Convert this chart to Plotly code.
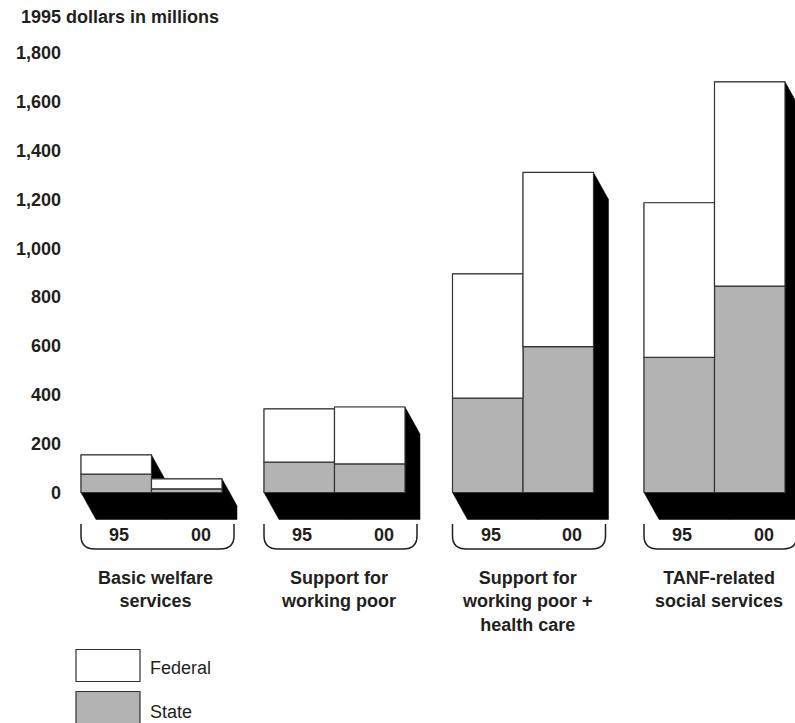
import plotly.graph_objects as go

# Spending in 1995 dollars (millions), by program group and year
groups = ["Basic welfare<br>services", "Support for<br>working poor",
          "Support for<br>working poor +<br>health care", "TANF-related<br>social services"]
years = ["95", "00"]
state_95 = [75, 124, 386, 553]
state_00 = [15, 117, 597, 845]
federal_95 = [79, 218, 509, 633]
federal_00 = [41, 233, 713, 836]
y_ticks = [0, 200, 400, 600, 800, 1000, 1200, 1400, 1600, 1800]

W, H = 795, 723
ML = 63
Y0_PX = 492.5          # pixel row of value 0
K = 0.2443             # pixels per million
BAR_W = 70.5
group_left = [81, 264, 452.5, 644]
DX, DY = 15, 27        # extrusion offset in pixels

TEXT = "#231f20"
GRAY = "#b3b3b3"
EDGE = "#333333"
FONT = "Liberation Sans, Arial, Helvetica, sans-serif"


def yv(px):
    """pixel row -> data value"""
    return (Y0_PX - px) / K


def xp(px):
    """pixel column -> paper fraction"""
    return (px - ML) / (W - ML)


def yp(px):
    """pixel row -> paper fraction"""
    return 1 - px / H


x95 = [g + BAR_W / 2 for g in group_left]
x00 = [g + BAR_W * 1.5 for g in group_left]
xs = x95 + x00
state = state_95 + state_00
federal = federal_95 + federal_00
totals = [s + f for s, f in zip(state, federal)]

fig = go.Figure()
fig.add_bar(x=xs, y=state, width=BAR_W, name="State",
            marker=dict(color=GRAY, line=dict(color=EDGE, width=1.2)))
fig.add_bar(x=xs, y=federal, base=state, width=BAR_W, name="Federal",
            marker=dict(color="white", line=dict(color=EDGE, width=1.2)))

shapes = []
dy_u = DY / K
# black extrusion behind every bar
for x, t in zip(xs, totals):
    L, R = x - BAR_W / 2, x + BAR_W / 2
    path = (f"M {L},{t} L {R},{t} L {R+DX},{t-dy_u} L {R+DX},{-dy_u} "
            f"L {L+DX},{-dy_u} L {L},0 Z")
    shapes.append(dict(type="path", path=path, xref="x", yref="y",
                       fillcolor="black", line=dict(color="black", width=0.5),
                       layer="below"))

# year brackets under each pair
annotations = []
for i, g in enumerate(group_left):
    x0, x1 = g, g + 2 * BAR_W + 12
    ytop, ymid, ybot = yv(524), yv(536), yv(549)
    r = 14
    path = (f"M {x0},{ytop} L {x0},{ymid} Q {x0},{ybot} {x0+r},{ybot} "
            f"L {x1-r},{ybot} Q {x1},{ybot} {x1},{ymid} L {x1},{ytop}")
    shapes.append(dict(type="path", path=path, xref="x", yref="y",
                       line=dict(color=TEXT, width=1.5)))
    for xl, lab in [(x95[i] + 3, years[0]), (x00[i] + 14, years[1])]:
        annotations.append(dict(x=xl, y=yv(535), xref="x", yref="y", text=lab,
                                showarrow=False, xanchor="center", yanchor="middle",
                                font=dict(size=18, color=TEXT, family=FONT, weight="bold")))
    annotations.append(dict(x=(x0 + x1) / 2 - 2, y=yv(566), xref="x", yref="y",
                            text=groups[i], showarrow=False, xanchor="center",
                            yanchor="top", align="center",
                            font=dict(size=18, color=TEXT, family=FONT, weight="bold")))

# axis title, left of the plot area
annotations.append(dict(x=xp(19), y=yp(16.5), xref="paper", yref="paper",
                        text="1995 dollars in millions",
                        showarrow=False, xanchor="left", yanchor="middle",
                        font=dict(size=18, color=TEXT, family=FONT, weight="bold")))

# legend boxes
for (y_top, y_bot, fill, lab, y_txt) in [(649.5, 681.5, "white", "Federal", 667.5),
                                         (691.5, 724, GRAY, "State", 711.5)]:
    shapes.append(dict(type="rect", xref="x", yref="y", x0=76, x1=140,
                       y0=yv(y_bot), y1=yv(y_top), fillcolor=fill,
                       line=dict(color=EDGE, width=1.2)))
    annotations.append(dict(x=148, y=yv(y_txt), xref="x", yref="y", text=lab,
                            showarrow=False, xanchor="left", yanchor="middle",
                            font=dict(size=18, color=TEXT, family=FONT)))

fig.update_layout(
    width=W, height=H,
    margin=dict(l=ML, r=0, t=0, b=0),
    paper_bgcolor="white", plot_bgcolor="white",
    barmode="overlay", showlegend=False,
    shapes=shapes, annotations=annotations,
    xaxis=dict(range=[ML, W], visible=False),
    yaxis=dict(range=[yv(H), yv(0)], tickvals=y_ticks, tickformat=",d",
               showgrid=False, zeroline=False, showline=False, ticks="",
               ticklabelstandoff=1,
               tickfont=dict(size=18, color=TEXT, family=FONT, weight="bold")),
)

fig.write_html("out.html")
